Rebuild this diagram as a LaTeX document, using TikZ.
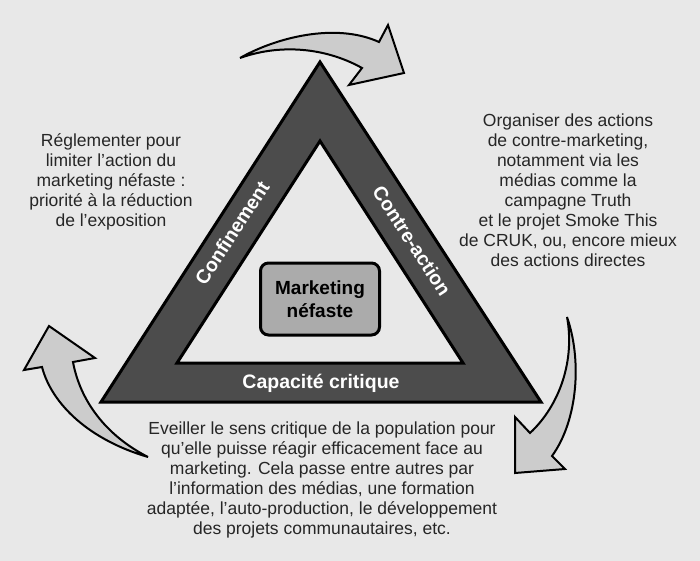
\documentclass[tikz,border=0pt]{standalone}
\usepackage{fontspec}
\setmainfont{Liberation Sans}
\begin{document}
\begin{tikzpicture}[x=1pt,y=-1pt,
	txt/.style={align=center,text=black!85,font=\fontsize{17.5}{20}\selectfont},
	band/.style={text=white,font=\bfseries\fontsize{19.5}{22}\selectfont},
	bent/.style={draw=black,line width=2pt,fill=black!20,line join=miter}]
		\fill[black!9] (0,0) rectangle (700,561);
		\useasboundingbox (0,0) rectangle (700,561);
		\draw[line width=3pt,fill=black!70,even odd rule] (320,62) -- (101,402) -- (541,402) -- cycle (320,141) -- (177,363) -- (463,363) -- cycle;
		\node[draw,line width=3pt,fill=black!33,rounded corners=8pt,minimum width=119pt,minimum height=72pt,align=center,font=\bfseries\fontsize{19}{23}\selectfont] (mkt) at (320,299) {Marketing\\n\'efaste};
		\node[band,rotate=57] (conf) at (232,233) {Confinement};
		\node[band,rotate=-57] (contre) at (412,241) {Contre-action};
		\node[band] (capa) at (321,383) {Capacit\'e critique};
		\node[txt] (regl) at (111,182) {R\'eglementer pour\\limiter l'action du\\marketing n\'efaste :\\priorit\'e \`a la r\'eduction\\de l'exposition};
		\node[txt] (orga) at (568,190) {Organiser des actions\\de contre-marketing,\\notamment via les\\m\'edias comme la\\campagne Truth\\et le projet Smoke This\\de CRUK, ou, encore mieux\\des actions directes};
		\node[txt] (eveil) at (322,480) {Eveiller le sens critique de la population pour\\qu'elle puisse r\'eagir efficacement face au\\marketing. Cela passe entre autres par\\l'information des m\'edias, une formation\\adapt\'ee, l'auto-production, le d\'eveloppement\\des projets communautaires, etc.};
		\draw[bent] (240,58) .. controls (275,38) and (335,22) .. (379,42) -- (388,25) -- (404,73) -- (349,85) -- (362,68) .. controls (330,50) and (285,42) .. (240,58) -- cycle;
		\draw[bent] (567,317) .. controls (582,360) and (578,420) .. (552,456) -- (565,469) -- (515,473) -- (515,417) -- (530,433) .. controls (560,405) and (575,360) .. (567,317) -- cycle;
		\draw[bent] (148,457) .. controls (90,440) and (52,405) .. (42,367) -- (24,370) -- (49,326) -- (95,358) -- (73,362) .. controls (80,400) and (105,435) .. (148,457) -- cycle;
		\end{tikzpicture}
\end{document}
